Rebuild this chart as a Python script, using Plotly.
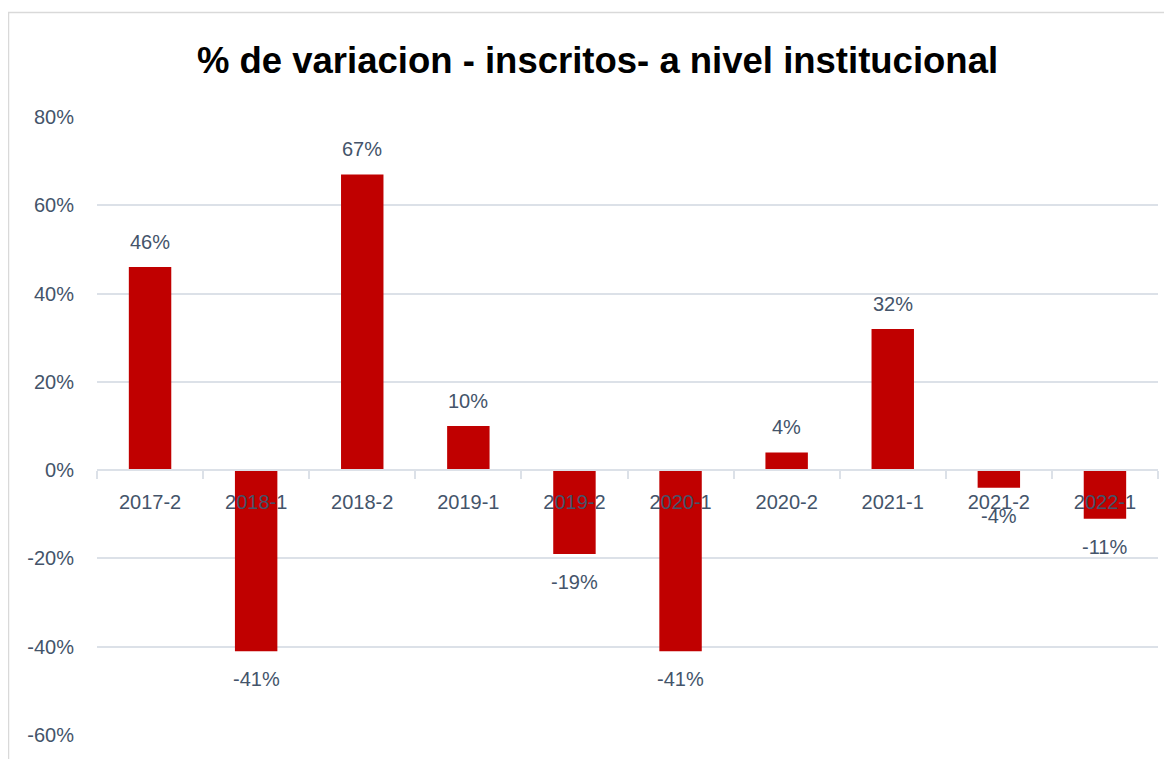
import plotly.graph_objects as go

categories = ["2017-2", "2018-1", "2018-2", "2019-1", "2019-2", "2020-1", "2020-2", "2021-1", "2021-2", "2022-1"]
variation_pct = [46, -41, 67, 10, -19, -41, 4, 32, -4, -11]
y_ticks = [-60, -40, -20, 0, 20, 40, 60, 80]
y_tick_labels = [f"{v}%" for v in y_ticks]

TEXT = "#44546A"
GRID = "#DCE1E8"
FONT = "Liberation Sans"

# page body has an 8px margin, so figure coords = page coords - 8
W, H = 1164, 751
L, R, T, B = 89, 14, 109, 24
plot_w = W - L - R
plot_h = H - T - B

fig = go.Figure(go.Bar(
    x=categories,
    y=variation_pct,
    marker=dict(color="#C00000", line=dict(width=0)),
    hovertemplate="%{x}: %{y}%<extra></extra>",
))

# data labels, placed from the data values through the axes
annotations = [
    dict(
        x=c, y=v, xref="x", yref="y", text=f"{v}%", showarrow=False,
        yshift=25 if v >= 0 else -28, yanchor="middle",
        font=dict(family=FONT, size=20, color=TEXT),
    )
    for c, v in zip(categories, variation_pct)
]

ymin, ymax = -60, 80
fig.update_layout(
    width=W, height=H,
    margin=dict(l=L, r=R, t=T, b=B),
    paper_bgcolor="white", plot_bgcolor="white",
    bargap=0.6,
    showlegend=False,
    title=dict(
        text="<b>% de variacion - inscritos- a nivel institucional</b>",
        font=dict(family=FONT, size=36.5, color="black"),
        xref="paper", x=(589.5 - L) / plot_w, xanchor="center",
        yref="container", y=1 - 52 / H, yanchor="middle",
    ),
    yaxis=dict(
        range=[ymin, ymax],
        tickvals=y_ticks, ticktext=y_tick_labels,
        showgrid=True, gridcolor=GRID, gridwidth=1.5,
        zeroline=False, showline=False,
        tickfont=dict(family=FONT, size=20, color=TEXT),
        ticklabelstandoff=22,
    ),
    xaxis=dict(
        type="category",
        anchor="free", position=(0 - ymin) / (ymax - ymin),
        showline=True, linecolor=GRID, linewidth=1.5,
        ticks="outside", tickson="boundaries", ticklen=8, tickcolor=GRID, tickwidth=1.5,
        showgrid=False,
        tickfont=dict(family=FONT, size=20, color=TEXT),
        ticklabelstandoff=14,
    ),
    annotations=annotations,
    shapes=[dict(
        type="rect", xref="paper", yref="paper",
        x0=(0.5 - L) / plot_w, x1=1.2,
        y0=-0.2, y1=(H - B - 4.5) / plot_h,
        line=dict(color="#D9D9D9", width=1.5), fillcolor="rgba(0,0,0,0)",
        layer="below",
    )],
)

fig.write_html("out.html")
